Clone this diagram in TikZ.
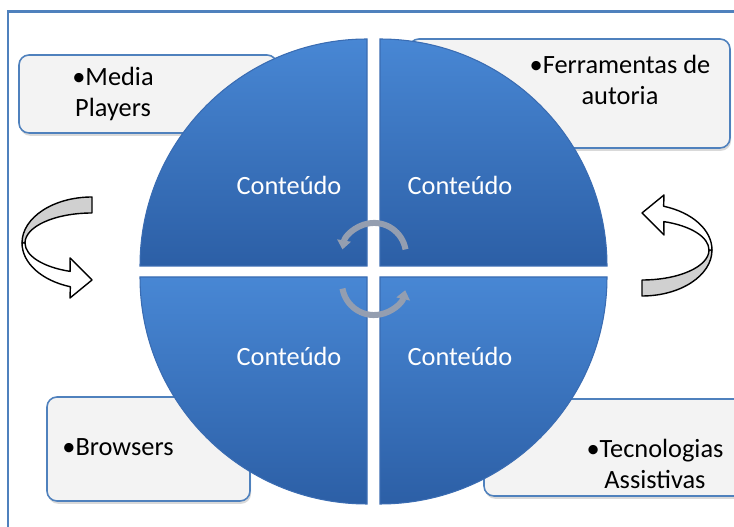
\documentclass[tikz,border=0pt]{standalone}
\usepackage{fontspec}
\setmainfont{Carlito}
\usetikzlibrary{arrows.meta,shadows}

\definecolor{frameblue}{RGB}{79,129,189}
\definecolor{boxgrey}{RGB}{243,243,243}
\definecolor{quadlight}{RGB}{72,135,212}
\definecolor{quaddark}{RGB}{44,95,166}
\definecolor{quadedge}{RGB}{58,108,178}
\definecolor{arcgrey}{RGB}{148,158,176}
\definecolor{ribbongrey}{RGB}{208,208,208}

% curled ribbon arrow, origin at the centre of its ellipse
\tikzset{
  pics/ribbonarrow/.style={code={
    \filldraw[fill=ribbongrey, line width=0.8pt, line join=round]
      (0,46) arc[start angle=90, end angle=180, x radius=70, y radius=46]
      -- (-67,0) arc[start angle=180, end angle=90, x radius=67, y radius=30]
      -- cycle;
    \filldraw[fill=white, line width=0.8pt, line join=round]
      (-70,0) arc[start angle=180, end angle=252, x radius=70, y radius=46]
      -- (-22,-55) -- (0,-37) -- (-22,-15) -- (-21.8,-28.4)
      arc[start angle=251, end angle=180, x radius=67, y radius=30]
      -- cycle;
  }}
}

\begin{document}
\begin{tikzpicture}[x=0.02cm, y=0.02cm,
  callout/.style={draw=frameblue, line width=0.9pt, fill=boxgrey,
    rounded corners=0.2cm,
    drop shadow={opacity=0.3, shadow xshift=0.6pt, shadow yshift=-1.6pt}},
  quadrant/.style={top color=quadlight, bottom color=quaddark,
    draw=quadedge, line width=0.6pt},
  content/.style={text=white, font=\fontsize{15}{18}\selectfont},
  item/.style={align=center, font=\fontsize{15}{18}\selectfont},
  turnarc/.style={draw=arcgrey, line width=0.12cm,
    -{Triangle[width=0.27cm, length=0.18cm]}}]
  \useasboundingbox (0,0) rectangle (734,527);

  % frame
  \draw[frameblue, line width=0.06cm] (8,-20) -- (8,515) -- (760,515);

  % boxes behind the circle
  \path[callout] (19,394) rectangle (277,472);
  \path[callout] (409,379) rectangle (730,488);
  \path[callout] (47,26) rectangle (250,130);
  \path[callout] (484,31) rectangle (745,128);

  % the four quarters
  \path[quadrant] (367,261) -- (140,261) arc[start angle=180, end angle=90, radius=227] -- cycle;
  \path[quadrant] (380,261) -- (380,488) arc[start angle=90, end angle=0, radius=227] -- cycle;
  \path[quadrant] (367,250) -- (367,23) arc[start angle=270, end angle=180, radius=227] -- cycle;
  \path[quadrant] (380,250) -- (607,250) arc[start angle=0, end angle=-90, radius=227] -- cycle;

  \node[content] (tl) at (289,342) {Conteúdo};
  \node[content] (tr) at (460,342) {Conteúdo};
  \node[content] (bl) at (289,171) {Conteúdo};
  \node[content] (br) at (460,171) {Conteúdo};

  % arrows turning round the centre
  \draw[turnarc] (405.5,277.6) arc[start angle=10, end angle=170, radius=32];
  \draw[turnarc] (342.5,238.4) arc[start angle=190, end angle=347, radius=32];

  % side arrows
  \pic at (92,284) {ribbonarrow};
  \pic[rotate=180] at (642,277) {ribbonarrow};

  \node[item] (media) at (113,433) {•Media\\Players};
  \node[item] (autoria) at (620,447) {•Ferramentas de\\autoria};
  \node[item] (browsers) at (118,80) {•Browsers};
  \node[item] (assist) at (655,63) {•Tecnologias\\Assistivas};
\end{tikzpicture}
\end{document}
